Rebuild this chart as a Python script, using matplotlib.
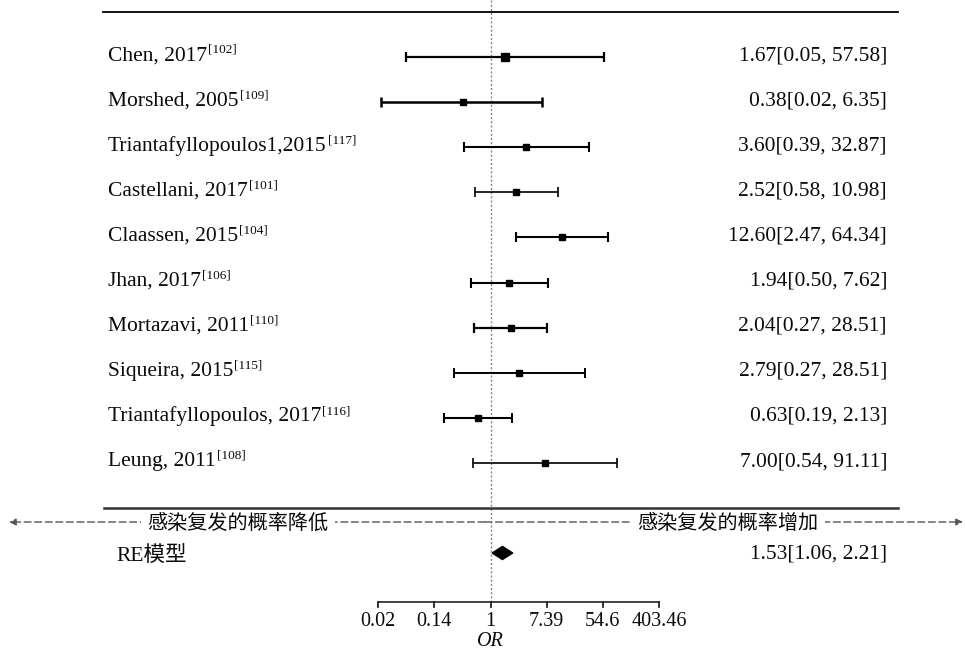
import numpy as np
import matplotlib
matplotlib.use('Agg')
import matplotlib.pyplot as plt
import matplotlib.transforms as mtransforms

# 研究名称 / 参考文献
studies = ['Chen, 2017', 'Morshed, 2005', 'Triantafyllopoulos1,2015',
           'Castellani, 2017', 'Claassen, 2015', 'Jhan, 2017',
           'Mortazavi, 2011', 'Siqueira, 2015',
           'Triantafyllopoulos, 2017', 'Leung, 2011']
refs = ['[102]', '[109]', '[117]', '[101]', '[104]', '[106]',
        '[110]', '[115]', '[116]', '[108]']
# OR与置信区间（图中画出的位置）
or_pt = [1.67, 0.38, 3.60, 2.52, 12.60, 1.94, 2.04, 2.79, 0.63, 7.00]
or_lo = [0.05, 0.02, 0.39, 0.58, 2.47, 0.50, 0.56, 0.27, 0.19, 0.54]
or_hi = [57.58, 6.35, 32.87, 10.98, 64.34, 7.62, 7.50, 28.51, 2.13, 91.11]
# 右侧文字（照原图抄）
right_txt = ['1.67[0.05, 57.58]', '0.38[0.02, 6.35]', '3.60[0.39, 32.87]',
             '2.52[0.58, 10.98]', '12.60[2.47, 64.34]', '1.94[0.50, 7.62]',
             '2.04[0.27, 28.51]', '2.79[0.27, 28.51]', '0.63[0.19, 2.13]',
             '7.00[0.54, 91.11]']
msize = [5.2, 4.2, 4.5, 4.5, 5, 4.5, 5, 4.5, 4.5, 4.2]
lwid = [1.6, 1.8, 1.5, 1.2, 1.5, 1.5, 1.6, 1.4, 1.5, 1.2]

re_pt, re_lo, re_hi = 1.53, 1.06, 2.21
re_txt = '1.53[1.06, 2.21]'

tick_vals = np.exp([-4, -2, 0, 2, 4, 6])
tick_lbl = ['0.02', '0.14', '1', '7.39', '54.6', '403.46']

serif = 'Liberation Serif'
mixed = ['Liberation Serif', 'Noto Sans CJK SC']
cjk = ['Noto Sans CJK SC', 'Liberation Serif']
fs = 15.5
tc = '#0a0a0a'

fig = plt.figure(figsize=(9.65, 6.53), dpi=100)
ax = fig.add_axes([0, 0, 1, 1])
ax.set_xscale('log')
# 像素 -> ln(OR): 每单位约28.1px，OR=1 在 x=490.5
ax.set_xlim(np.exp(-490.5 / 28.1), np.exp((965 - 490.5) / 28.1))
# 行距约45.1px，第1行在 y=57
ax.set_ylim(1 + (653 - 57) / 45.1, 1 - 57 / 45.1)
ax.axis('off')

px = lambda v: v / 965.0  # 横向位置用图宽比例
py = lambda v: 1 + (v - 57) / 45.1  # 像素行 -> y
trans = mtransforms.blended_transform_factory(ax.transAxes, ax.transData)

rows = np.arange(1, len(studies) + 1)

# 中间虚线 OR=1
ax.plot([1, 1], [py(0), py(602)], color='#888888',
        lw=1, ls=(0, (1.5, 1.5)), zorder=1)

# 顶部和底部实线
ax.plot([px(103), px(898)], [py(12), py(12)], transform=trans,
        color='black', lw=1.3)
ax.plot([px(104), px(898)], [py(508), py(508)], transform=trans,
        color='#333333', lw=1.8, zorder=6)

for i, r in enumerate(rows):
    ax.errorbar(or_pt[i], r, xerr=[[or_pt[i] - or_lo[i]], [or_hi[i] - or_pt[i]]],
                fmt='s', color='black', ms=msize[i], lw=lwid[i],
                capsize=3.8, capthick=lwid[i], zorder=3)
    t = ax.text(px(108), r - 0.03, studies[i], transform=trans, ha='left',
                va='center', fontsize=fs, family=serif, color=tc)
    ax.annotate(refs[i], xy=(1, 0), xycoords=t, xytext=(0.8, 8.8),
                textcoords='offset points', ha='left', va='baseline',
                fontsize=9.5, family=serif, color=tc)
    ax.text(px(887), r - 0.03, right_txt[i], transform=trans, ha='right',
            va='center', fontsize=fs, family=serif, color=tc)

# 双向箭头虚线
ya = py(522)
for xend in (px(9), px(963)):
    ax.annotate('', xy=(xend, ya), xytext=(px(485), ya), xycoords=trans,
                textcoords=trans,
                arrowprops=dict(arrowstyle='-|>', ls=(0, (5, 2.6)),
                                color='#555555', lw=1, mutation_scale=10,
                                shrinkA=0, shrinkB=0))
for xc, s in [(238, '感染复发的概率降低'), (728, '感染复发的概率增加')]:
    ax.text(px(xc), py(523), s, transform=trans, ha='center', va='center',
            fontsize=14.5, family=cjk, color=tc,
            bbox=dict(boxstyle='square,pad=0.3', fc='white', ec='none'))

# RE 模型
yre = py(553)
ax.fill([re_lo, re_pt, re_hi, re_pt], [yre, yre - 0.145, yre, yre + 0.145],
        color='black', zorder=3)
ax.text(px(116), py(556), 'RE模型', transform=trans, ha='left', va='center',
        fontsize=fs, family=mixed, color=tc)
ax.text(px(887), py(554), re_txt, transform=trans, ha='right', va='center',
        fontsize=fs, family=serif, color=tc)

# 底部坐标轴
yax = py(602)
ax.plot([tick_vals[0], tick_vals[-1]], [yax, yax], color='#222222', lw=1.2)
for v, s in zip(tick_vals, tick_lbl):
    ax.plot([v, v], [yax, yax + 0.1], color='#222222', lw=1.3)
    ax.text(v, py(622), s, ha='center', va='center', fontsize=14.5,
            family=serif, color=tc)
ax.text(1, py(641), 'OR', ha='center', va='center',
        fontsize=14.5, family=serif, style='italic', color=tc)

fig.savefig('out.png', dpi=100)
